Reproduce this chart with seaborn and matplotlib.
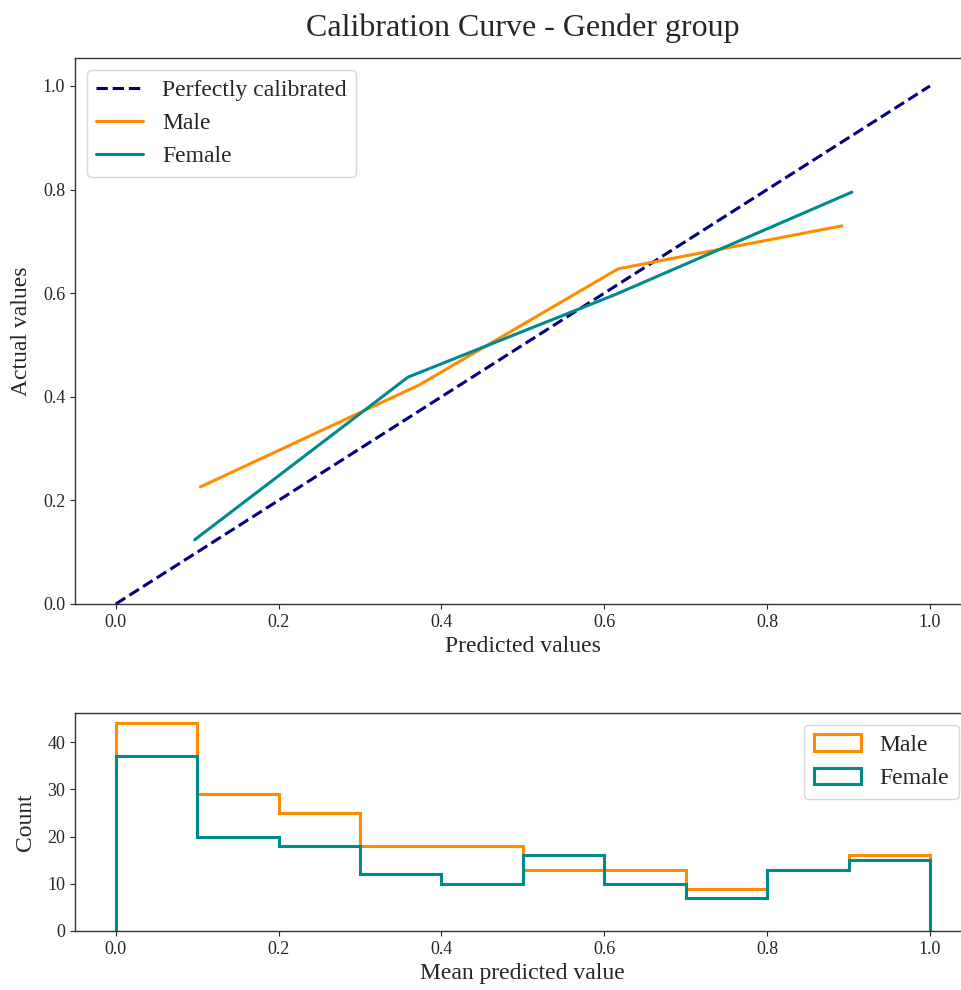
import numpy as np
import pandas as pd
import matplotlib
matplotlib.use("Agg")
import matplotlib.pyplot as plt
import seaborn as sns

# ---- data ----
perfect_x = [0.0, 1.0]
perfect_y = [0.0, 1.0]

male_pred = [0.104, 0.373, 0.617, 0.892]
male_true = [0.226, 0.423, 0.647, 0.730]

female_pred = [0.097, 0.359, 0.613, 0.904]
female_true = [0.124, 0.438, 0.597, 0.795]

bin_edges = [0.0, 0.1, 0.2, 0.3, 0.4, 0.5, 0.6, 0.7, 0.8, 0.9, 1.0]
male_counts = [44, 29, 25, 18, 18, 13, 13, 9, 13, 16]
female_counts = [37, 20, 18, 12, 10, 16, 10, 7, 13, 15]

x_ticks = [0.0, 0.2, 0.4, 0.6, 0.8, 1.0]

# ---- style ----
sns.set_style("ticks")
plt.rcParams["font.family"] = ["Liberation Serif", "DejaVu Serif"]
plt.rcParams["xtick.direction"] = "out"
plt.rcParams["ytick.direction"] = "out"

MALE_C = "#ff8c00"
FEMALE_C = "#008b8b"

fig = plt.figure(figsize=(9.61, 9.90), dpi=100)
ax1 = fig.add_axes([75 / 961, 0.3899, 0.932, 0.5515])
ax2 = fig.add_axes([75 / 961, 0.0596, 0.932, 0.2202])

# ---- calibration curve ----
sns.lineplot(x=perfect_x, y=perfect_y, ax=ax1, color="navy", linestyle="--",
             linewidth=2.2, label="Perfectly calibrated")
sns.lineplot(x=male_pred, y=male_true, ax=ax1, color=MALE_C, linewidth=2.2,
             label="Male")
sns.lineplot(x=female_pred, y=female_true, ax=ax1, color=FEMALE_C,
             linewidth=2.2, label="Female")

ax1.set_xlim(-0.05, 1.05)
ax1.set_ylim(0.0, 1.054)
ax1.set_xticks(x_ticks)
ax1.set_yticks([0.0, 0.2, 0.4, 0.6, 0.8, 1.0])
ax1.set_xlabel("Predicted values", fontsize=17, labelpad=4)
ax1.set_ylabel("Actual values", fontsize=17, labelpad=8)
ax1.set_title("Calibration Curve - Gender group", fontsize=23, pad=16)
ax1.tick_params(labelsize=13)
ax1.legend(loc="upper left", fontsize=17)

# ---- histogram ----
centers = [(bin_edges[i] + bin_edges[i + 1]) / 2 for i in range(len(bin_edges) - 1)]
ax2.hist(centers, bins=bin_edges, weights=male_counts, histtype="step",
         color=MALE_C, linewidth=2.2, label="Male")
ax2.hist(centers, bins=bin_edges, weights=female_counts, histtype="step",
         color=FEMALE_C, linewidth=2.2, label="Female")

ax2.set_xlim(-0.05, 1.05)
ax2.set_xticks(x_ticks)
ax2.set_yticks([0, 10, 20, 30, 40])
ax2.set_xlabel("Mean predicted value", fontsize=17, labelpad=4)
ax2.set_ylabel("Count", fontsize=17, labelpad=8)
ax2.tick_params(labelsize=13)
ax2.legend(loc="upper right", fontsize=17)

for ax in (ax1, ax2):
    for s in ax.spines.values():
        s.set_visible(True)
        s.set_color("#333333")
        s.set_linewidth(1.0)

fig.savefig("out.png", dpi=100)
